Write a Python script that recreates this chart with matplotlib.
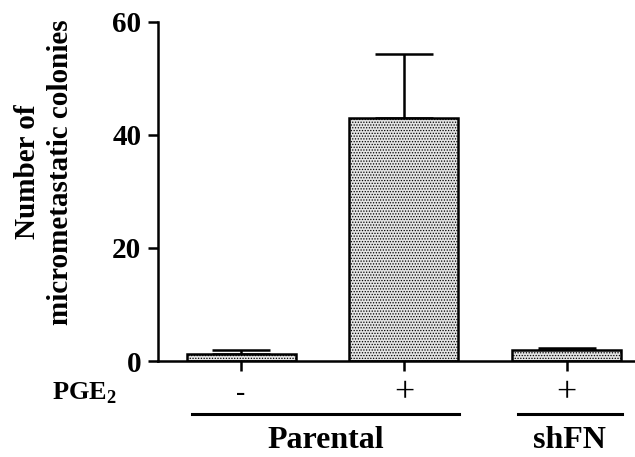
import matplotlib
matplotlib.use("Agg")
import matplotlib.pyplot as plt
import matplotlib.transforms as mtransforms

# values
positions = [0, 1, 2]
means = [1.3, 43.0, 1.9]
sems = [0.6, 11.3, 0.4]
pge2_marks = ["-", "+", "+"]
groups = [("Parental", 0, 1), ("shFN", 2, 2)]
yticks = [0, 20, 40, 60]

plt.rcParams["font.family"] = ["Liberation Serif", "DejaVu Serif"]
plt.rcParams["mathtext.fontset"] = "custom"
plt.rcParams["mathtext.rm"] = "Liberation Serif"
plt.rcParams["mathtext.bf"] = "Liberation Serif:bold"
plt.rcParams["hatch.color"] = "#8a8a8a"
plt.rcParams["hatch.linewidth"] = 0.6

fig = plt.figure(figsize=(6.35, 4.57), dpi=100)
ax = fig.add_axes([0.249, 0.210, 0.751, 0.742])

ax.bar(positions, means, width=0.67, color="#e4e4e4", edgecolor="black",
       linewidth=1.8, hatch="......", zorder=2)
ax.errorbar(positions, means, yerr=[[0] * len(sems), sems], fmt="none",
            ecolor="black", elinewidth=1.8, capsize=21, capthick=1.8, zorder=1)

ax.set_ylim(0, 60)
ax.set_xlim(-0.51, 2.42)
ax.set_yticks(yticks)
ax.set_yticklabels([str(t) for t in yticks], fontsize=21, fontweight="bold")
ax.set_xticks(positions)
ax.set_xticklabels([])
ax.tick_params(axis="both", width=1.8, length=7, direction="out")
ax.tick_params(axis="y", pad=5)
for side in ("top", "right"):
    ax.spines[side].set_visible(False)
for side in ("left", "bottom"):
    ax.spines[side].set_linewidth(1.8)

ax.set_ylabel("Number of\nmicrometastatic colonies", fontsize=21,
              fontweight="bold", linespacing=1.3)
ax.yaxis.set_label_coords(-0.176, 0.557)

trans = mtransforms.blended_transform_factory(ax.transData, ax.transAxes)
for x, m in zip(positions, pge2_marks):
    ax.text(x, -0.095, m, transform=trans, ha="center", va="center",
            fontsize=26 if m == "+" else 20, clip_on=False)
fig.text(0.133, 0.140, r"PGE$_\mathbf{2}$", ha="center", va="center",
         fontsize=19, fontweight="bold")

for name, start, end in groups:
    x0 = start - 0.3
    x1 = end + 0.34
    ax.plot([x0, x1], [-0.156, -0.156], transform=trans, color="black",
            linewidth=2.2, clip_on=False)
    ax.text((start + end) / 2 + 0.02, -0.235, name, transform=trans,
            ha="center", va="center", fontsize=23, fontweight="bold",
            clip_on=False)

fig.savefig("out.png", dpi=100)
